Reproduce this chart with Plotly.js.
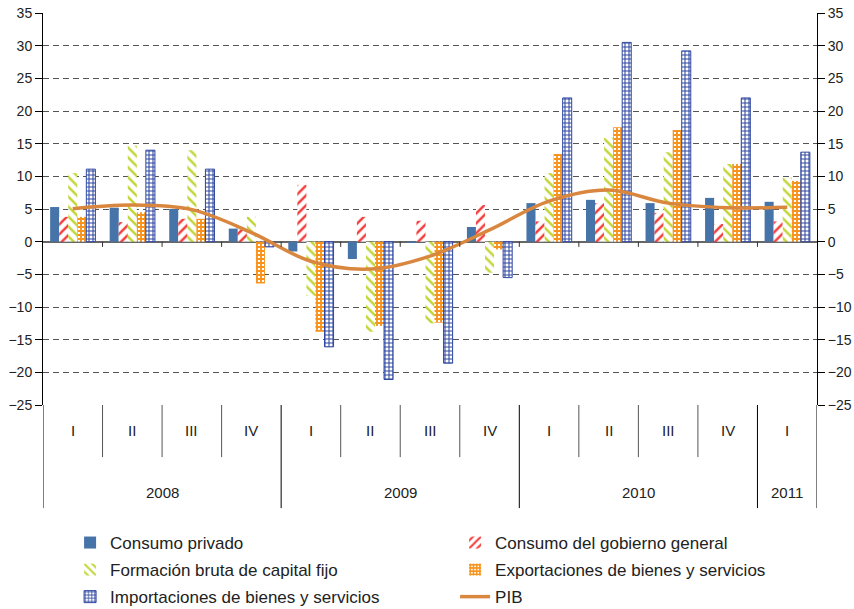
<!DOCTYPE html>
<html>
<head>
<meta charset="utf-8">
<script src="https://cdn.plot.ly/plotly-3.0.1.min.js"></script>
<style>html,body{margin:0;padding:0;background:#fff;}#chart{width:854px;height:609px;}</style>
</head>
<body>
<div id="chart"></div>
<script>
const years = ['2008','2008','2008','2008','2009','2009','2009','2009','2010','2010','2010','2010','2011'];
const quarters = ['I','II','III','IV','I','II','III','IV','I','II','III','IV','I'];
const consumoPrivado = [5.3, 5.2, 5.0, 2.0, -1.5, -2.65, -0.2, 2.25, 5.9, 6.4, 5.9, 6.7, 6.1];
const consumoGobierno = [3.8, 3.0, 3.5, 1.9, 8.7, 3.8, 3.2, 5.6, 3.1, 5.9, 4.4, 2.7, 3.1];
const formacionCapital = [10.5, 14.7, 14.0, 3.8, -8.3, -13.8, -12.5, -4.75, 10.5, 15.9, 13.7, 11.9, 9.8];
const exportaciones = [3.8, 4.5, 3.5, -6.4, -13.8, -12.9, -12.4, -1.2, 13.4, 17.5, 17.1, 11.9, 9.3];
const importaciones = [11.1, 14.0, 11.1, -0.8, -16.1, -21.1, -18.6, -5.5, 22.0, 30.5, 29.2, 22.0, 13.7];
const pib = [5.05, 5.6, 4.9, 1.4, -3.0, -4.2, -2.2, 1.8, 6.2, 7.9, 5.9, 5.2, 5.25];
const seriesNames = ['Consumo privado','Consumo del gobierno general','Formación bruta de capital fijo','Exportaciones de bienes y servicios','Importaciones de bienes y servicios','PIB'];

const cats = years.map((y, i) => y + '-' + quarters[i]);
const FONT = 'Liberation Sans, Arial, sans-serif';

const traces = [
  {type:'bar', name:seriesNames[0], x:cats, y:consumoPrivado, legend:'legend',
   marker:{color:'#4674A8'}},
  {type:'bar', name:seriesNames[1], x:cats, y:consumoGobierno, legend:'legend',
   marker:{color:'#ffffff', pattern:{shape:'/', fgcolor:'#F43B3B', bgcolor:'#ffffff', size:7, solidity:0.35}}},
  {type:'bar', name:seriesNames[2], x:cats, y:formacionCapital, legend:'legend2',
   marker:{color:'#ffffff', pattern:{shape:'\\', fgcolor:'#C2D534', bgcolor:'#ffffff', size:7, solidity:0.35}}},
  {type:'bar', name:seriesNames[3], x:cats, y:exportaciones, legend:'legend2',
   marker:{color:'#F7941E', pattern:{shape:'+', fgcolor:'#F7941E', bgcolor:'#ffffff', size:4, solidity:0.72}}},
  {type:'bar', name:seriesNames[4], x:cats, y:importaciones, legend:'legend3',
   marker:{color:'#ffffff', line:{color:'#2F47A0', width:1}, pattern:{shape:'+', fgcolor:'#2F47A0', bgcolor:'#ffffff', size:4, solidity:0.45}}},
  {type:'scatter', mode:'lines', name:seriesNames[5], x:cats, y:pib, legend:'legend3',
   line:{color:'#D9873F', width:3.5, shape:'spline', smoothing:1}}
];

// category table below the plot
const shapes = [];
for (let i = 0; i <= cats.length; i++) {
  const isYear = (i === 0 || i === cats.length || years[i] !== years[i-1]);
  shapes.push({type:'line', xref:'x', yref:'paper', x0:i-0.5, x1:i-0.5, y0:0, y1: isYear ? -0.263 : -0.133,
    line:{color: isYear ? '#000000' : '#555555', width:1}});
  if (i > 0 && i < cats.length) {
    shapes.push({type:'line', xref:'x', yref:'y', x0:i-0.5, x1:i-0.5, y0:0, y1:-0.8,
      line:{color:'#333333', width:1}});
  }
}
const annotations = [];
quarters.forEach((q, i) => {
  annotations.push({xref:'x', yref:'paper', x:i, y:-0.066, text:q, showarrow:false,
    xanchor:'center', yanchor:'middle', font:{family:FONT, size:15, color:'#222'}});
});
const yearList = [...new Set(years)];
yearList.forEach(yr => {
  const first = years.indexOf(yr), last = years.lastIndexOf(yr);
  annotations.push({xref:'x', yref:'paper', x:(first+last)/2, y:-0.222, text:yr, showarrow:false,
    xanchor:'center', yanchor:'middle', font:{family:FONT, size:15, color:'#222'}});
});

const yAxisBase = {
  range:[-25, 35], dtick:5, tick0:0, showline:true, linecolor:'#000', linewidth:1,
  ticks:'outside', ticklen:7, tickcolor:'#000', tickfont:{family:FONT, size:14, color:'#222'},
  fixedrange:true
};
const legendBase = {orientation:'h', xanchor:'left', yanchor:'middle', entrywidth:340,
  font:{family:FONT, size:17, color:'#222'}, bgcolor:'rgba(0,0,0,0)', traceorder:'normal'};

const layout = {
  width:854, height:609,
  margin:{l:43, r:37, t:13, b:204, autoexpand:false},
  paper_bgcolor:'#fff', plot_bgcolor:'#fff',
  barmode:'group', bargap:0.24, bargroupgap:0,
  font:{family:FONT},
  xaxis:{type:'category', range:[-0.5, cats.length-0.5], showticklabels:false, ticks:'',
    showgrid:false, zeroline:false, showline:false, fixedrange:true},
  yaxis:Object.assign({}, yAxisBase, {side:'left', showgrid:true, gridcolor:'#555', griddash:'6px,4px', gridwidth:1,
    zeroline:true, zerolinecolor:'#666', zerolinewidth:2}),
  yaxis2:Object.assign({}, yAxisBase, {side:'right', overlaying:'y', showgrid:false, zeroline:false}),
  legend:Object.assign({}, legendBase, {x:0.035, y:-0.352}),
  legend2:Object.assign({}, legendBase, {x:0.035, y:-0.421}),
  legend3:Object.assign({}, legendBase, {x:0.035, y:-0.49}),
  shapes:shapes, annotations:annotations, showlegend:true
};
// invisible helper so the right axis is drawn with the same scale
traces.push({type:'scatter', mode:'none', x:[cats[0]], y:[0], yaxis:'y2', showlegend:false, hoverinfo:'skip'});

Plotly.newPlot('chart', traces, layout, {staticPlot:true});
</script>
</body>
</html>
